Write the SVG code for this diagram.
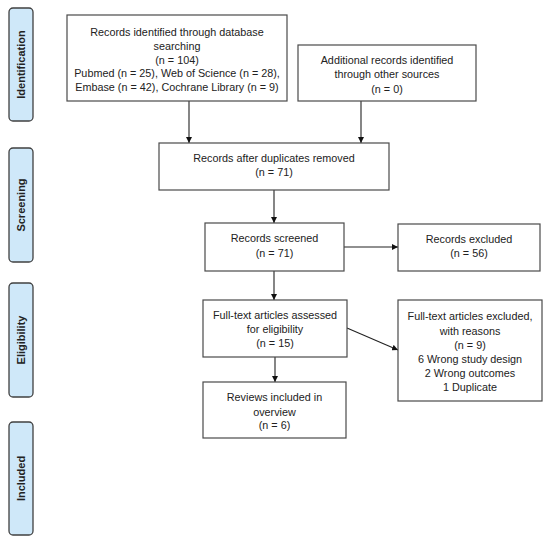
<svg xmlns="http://www.w3.org/2000/svg" width="550" height="541" viewBox="0 0 550 541">
<style>
.bg{fill:#ffffff}
.box{fill:#ffffff;stroke:#4a4a4a;stroke-width:1.2}
.phase{fill:#cfe8f9;stroke:#404040;stroke-width:1.3}
.t{font-family:"Liberation Sans",Arial,sans-serif;font-size:10.8px;fill:#222;text-anchor:middle}
.pt{font-family:"Liberation Sans",Arial,sans-serif;font-size:11px;font-weight:bold;fill:#222;text-anchor:middle}
.c{stroke:#222;stroke-width:1.1;fill:none;marker-end:url(#ah)}
</style>
<defs>
<marker id="ah" viewBox="0 0 10 10" refX="10" refY="5" markerWidth="6" markerHeight="6" markerUnits="userSpaceOnUse" orient="auto">
<path d="M0,0 L10,5 L0,10 z" fill="#111"/>
</marker>
</defs>
<rect class="bg" x="0" y="0" width="550" height="541"/>
<g id="phase-identification">
<rect class="phase" x="9" y="8" width="24" height="113" rx="4"/>
<text class="pt" transform="translate(25,64.5) rotate(-90)">Identification</text>
</g>
<g id="phase-screening">
<rect class="phase" x="9" y="148" width="24" height="114" rx="4"/>
<text class="pt" transform="translate(25,205) rotate(-90)">Screening</text>
</g>
<g id="phase-eligibility">
<rect class="phase" x="9" y="283" width="24" height="114" rx="4"/>
<text class="pt" transform="translate(25,340) rotate(-90)">Eligibility</text>
</g>
<g id="phase-included">
<rect class="phase" x="9" y="422" width="24" height="113" rx="4"/>
<text class="pt" transform="translate(25,478.5) rotate(-90)">Included</text>
</g>
<g id="connectors">
<line class="c" x1="189" y1="101" x2="189" y2="143"/>
<line class="c" x1="361" y1="101" x2="361" y2="143"/>
<line class="c" x1="274" y1="190" x2="274" y2="223"/>
<line class="c" x1="344" y1="247" x2="398" y2="247"/>
<line class="c" x1="274" y1="271" x2="274" y2="300"/>
<line class="c" x1="347" y1="328" x2="398" y2="350"/>
<line class="c" x1="275" y1="357" x2="275" y2="382"/>
</g>
<g id="records-identified">
<rect class="box" x="67" y="15" width="220" height="86"/>
<text class="t" x="177" y="36">Records identified through database</text>
<text class="t" x="177" y="49.8">searching</text>
<text class="t" x="177" y="63.6">(n = 104)</text>
<text class="t" x="177" y="77.4">Pubmed (n = 25), Web of Science (n = 28),</text>
<text class="t" x="177" y="91.2">Embase (n = 42), Cochrane Library (n = 9)</text>
</g>
<g id="additional-records">
<rect class="box" x="298" y="45" width="178" height="56"/>
<text class="t" x="387" y="64">Additional records identified</text>
<text class="t" x="387" y="78">through other sources</text>
<text class="t" x="387" y="92.5">(n = 0)</text>
</g>
<g id="after-duplicates">
<rect class="box" x="159" y="143" width="230" height="47"/>
<text class="t" x="274" y="162">Records after duplicates removed</text>
<text class="t" x="274" y="176">(n = 71)</text>
</g>
<g id="records-screened">
<rect class="box" x="205" y="223" width="139" height="48"/>
<text class="t" x="274.5" y="242">Records screened</text>
<text class="t" x="274.5" y="256.5">(n = 71)</text>
</g>
<g id="records-excluded">
<rect class="box" x="398" y="224" width="142" height="47"/>
<text class="t" x="469" y="243">Records excluded</text>
<text class="t" x="469" y="257">(n = 56)</text>
</g>
<g id="fulltext-assessed">
<rect class="box" x="203" y="300" width="144" height="57"/>
<text class="t" x="275" y="319">Full-text articles assessed</text>
<text class="t" x="275" y="333">for eligibility</text>
<text class="t" x="275" y="347">(n = 15)</text>
</g>
<g id="fulltext-excluded">
<rect class="box" x="398" y="300" width="144" height="101"/>
<text class="t" x="470" y="320">Full-text articles excluded,</text>
<text class="t" x="470" y="334.5">with reasons</text>
<text class="t" x="470" y="348.5">(n = 9)</text>
<text class="t" x="470" y="362.5">6 Wrong study design</text>
<text class="t" x="470" y="376.5">2 Wrong outcomes</text>
<text class="t" x="470" y="390.5">1 Duplicate</text>
</g>
<g id="reviews-included">
<rect class="box" x="203" y="382" width="143" height="56"/>
<text class="t" x="274.5" y="401">Reviews included in</text>
<text class="t" x="274.5" y="415.5">overview</text>
<text class="t" x="274.5" y="429">(n = 6)</text>
</g>
</svg>
